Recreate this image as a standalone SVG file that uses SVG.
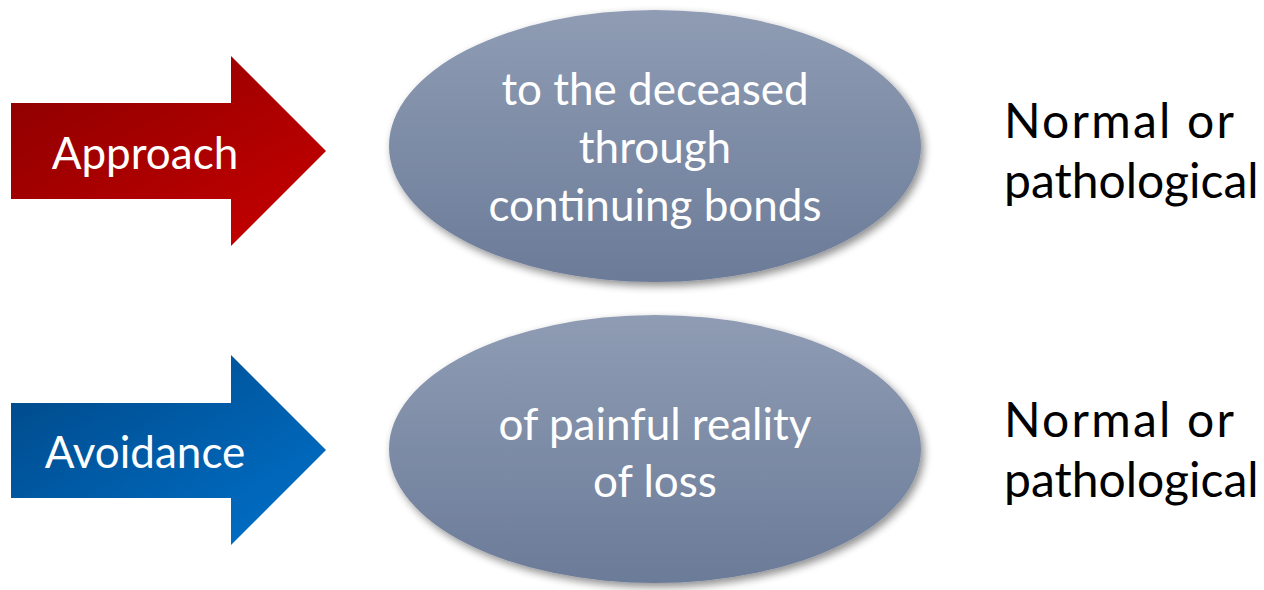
<svg xmlns="http://www.w3.org/2000/svg" width="1264" height="590" viewBox="0 0 1264 590">
<defs>
<linearGradient id="gRed" x1="0" y1="0" x2="1" y2="1">
<stop offset="0" stop-color="#8a0000"/>
<stop offset="1" stop-color="#c80000"/>
</linearGradient>
<linearGradient id="gBlue" x1="0" y1="0" x2="1" y2="1">
<stop offset="0" stop-color="#004785"/>
<stop offset="1" stop-color="#0072cc"/>
</linearGradient>
<linearGradient id="gEll" x1="0" y1="0" x2="0" y2="1">
<stop offset="0" stop-color="#8f9cb4"/>
<stop offset="1" stop-color="#6b7b98"/>
</linearGradient>
<filter id="sh" x="-10%" y="-10%" width="125%" height="130%">
<feGaussianBlur in="SourceAlpha" stdDeviation="4"/>
<feOffset dx="3" dy="4" result="b"/>
<feComponentTransfer><feFuncA type="linear" slope="0.45"/></feComponentTransfer>
<feMerge><feMergeNode/><feMergeNode in="SourceGraphic"/></feMerge>
</filter>
</defs>
<style>
.lbl{font-family:Lato,"Open Sans",sans-serif;fill:#ffffff;text-anchor:middle}
.out{font-family:Lato,"Open Sans",sans-serif;fill:#000000;font-size:48px}
</style>
<rect width="1264" height="590" fill="#ffffff"/>
<g id="arrow-approach">
<polygon points="11,103 231,103 231,56 326,151 231,246 231,199 11,199" fill="url(#gRed)"/>
<text class="lbl" x="145" y="169" font-size="44">Approach</text>
</g>
<g id="ellipse-approach">
<ellipse cx="655" cy="146" rx="266" ry="136" fill="url(#gEll)" filter="url(#sh)"/>
<text class="lbl" font-size="44"><tspan x="655" y="105">to the deceased</tspan><tspan x="655" y="163">through</tspan><tspan x="655" y="221">continuing bonds</tspan></text>
</g>
<g id="outcome-approach">
<text class="out" x="1004" y="138" textLength="230" lengthAdjust="spacing">Normal or</text>
<text class="out" x="1004" y="198">pathological</text>
</g>
<g id="arrow-avoidance">
<polygon points="11,403 231,403 231,355 326,450 231,545 231,498 11,498" fill="url(#gBlue)"/>
<text class="lbl" x="145" y="468" font-size="44">Avoidance</text>
</g>
<g id="ellipse-avoidance">
<ellipse cx="655" cy="449" rx="266" ry="134" fill="url(#gEll)" filter="url(#sh)"/>
<text class="lbl" font-size="44"><tspan x="655" y="440">of painful reality</tspan><tspan x="655" y="497">of loss</tspan></text>
</g>
<g id="outcome-avoidance">
<text class="out" x="1004" y="437" textLength="230" lengthAdjust="spacing">Normal or</text>
<text class="out" x="1004" y="497">pathological</text>
</g>
<g id="connectors"/>
</svg>
